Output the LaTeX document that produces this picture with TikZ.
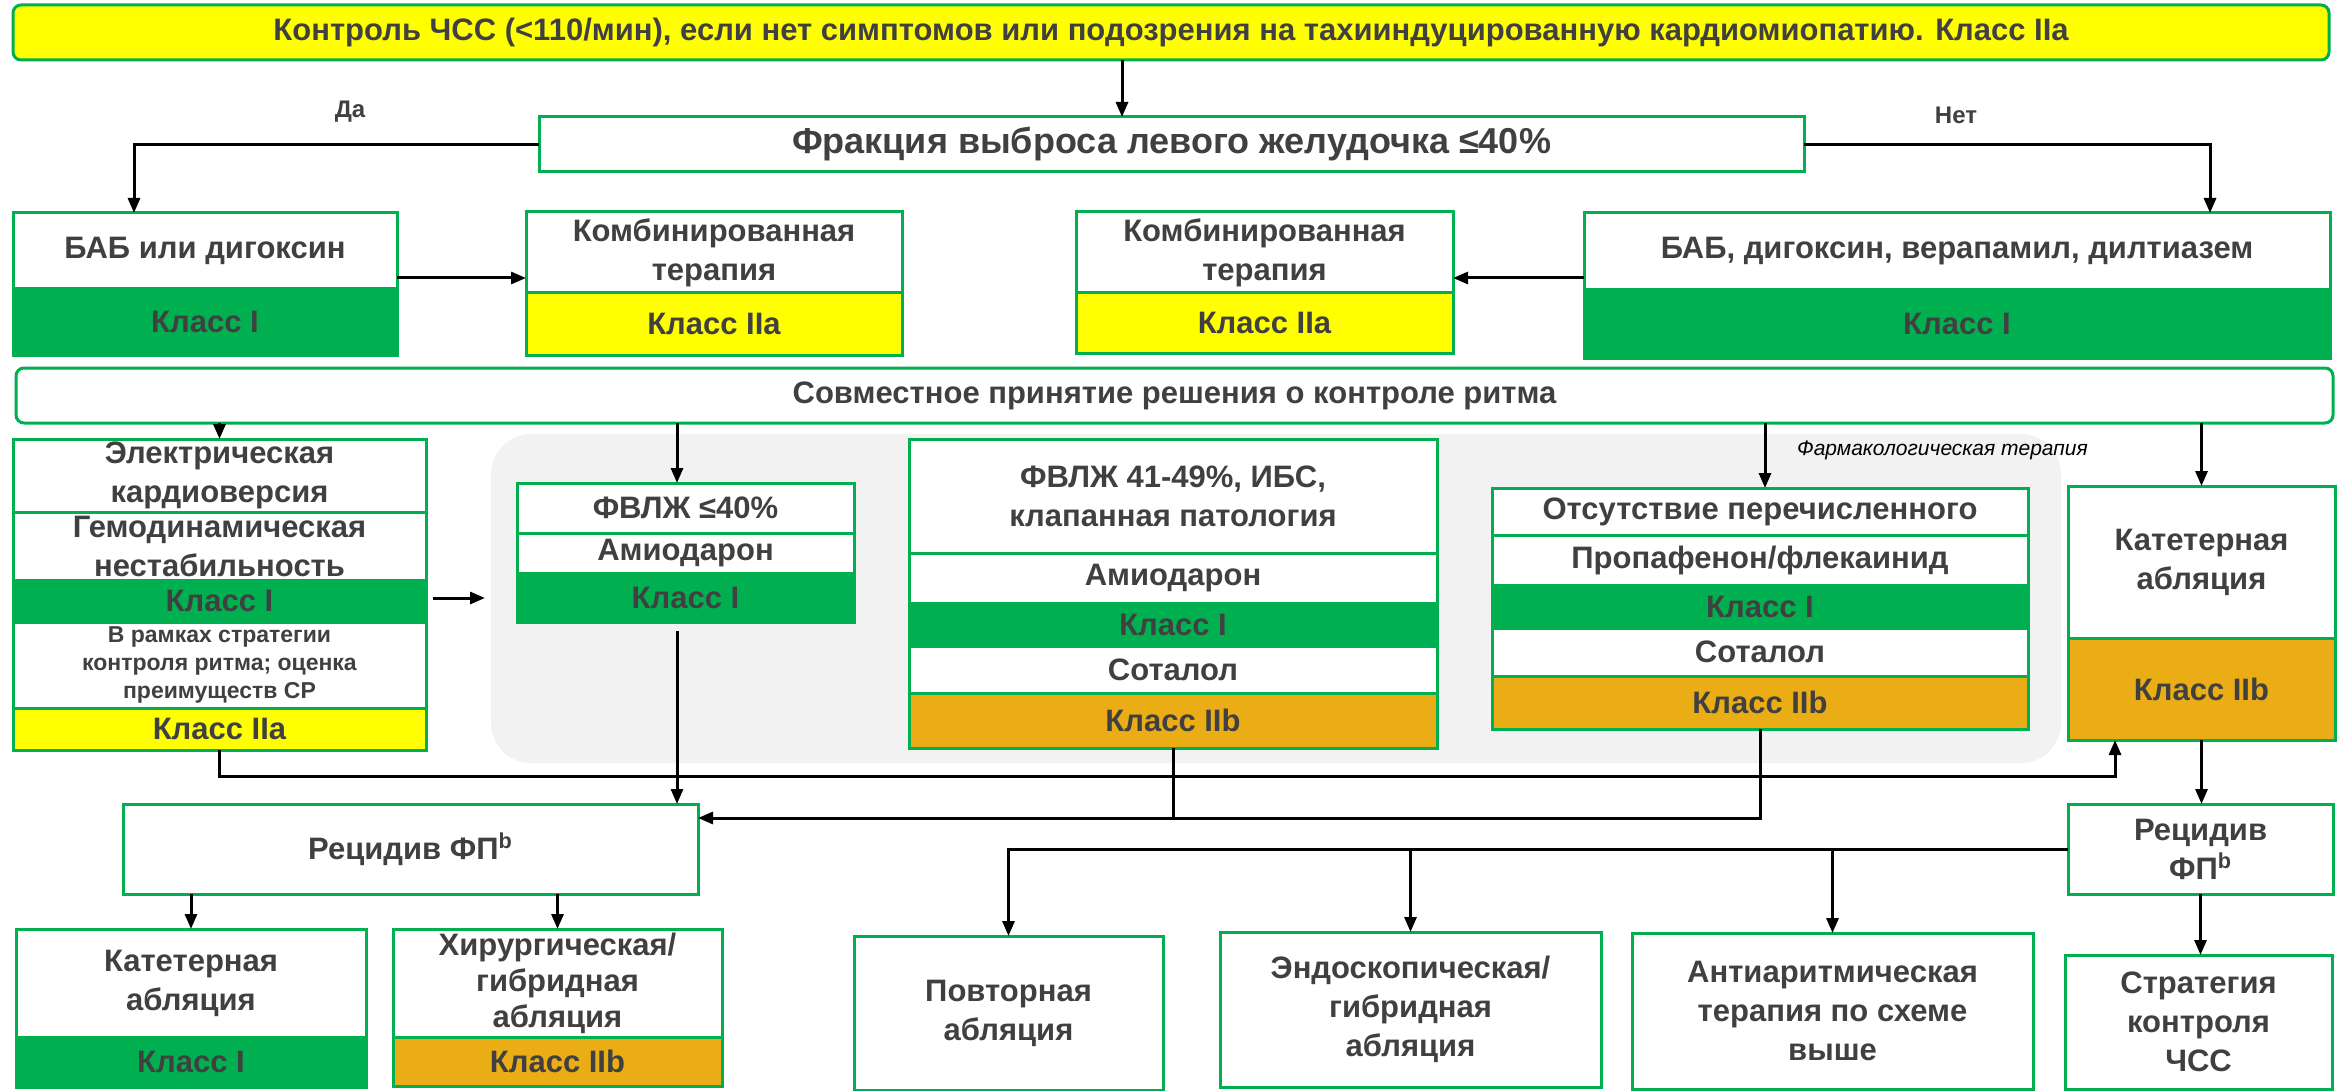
\documentclass[tikz,border=0pt]{standalone}
\usepackage{fontspec}
\setmainfont{Liberation Sans}
\usetikzlibrary{arrows.meta}

\definecolor{lgreen}{HTML}{00B050}
\definecolor{yel}{HTML}{FFFF00}
\definecolor{amber}{HTML}{EAAD16}
\definecolor{dgray}{HTML}{404040}
\definecolor{bggray}{HTML}{F2F2F2}

\tikzset{
    sz/.style 2 args={minimum width=#1*0.5pt, minimum height=#2*0.5pt},
    cell/.style={draw=lgreen, line width=1.5pt, fill=white, anchor=north west,
        inner sep=0pt, outer sep=0pt, align=center, text=dgray,
        font=\fontsize{15.5}{19.5}\selectfont\bfseries},
    small/.style={font=\fontsize{11.5}{13.8}\selectfont\bfseries},
    clsI/.style={cell, fill=lgreen},
    clsIIa/.style={cell, fill=yel},
    clsIIb/.style={cell, fill=amber},
    lbl/.style={text=dgray, font=\fontsize{12}{14}\selectfont\bfseries},
    conn/.style={draw=black, line width=1.5pt},
    arr/.style={conn, -{Triangle[length=7.5pt,width=6pt]}},
}

\begin{document}
\begin{tikzpicture}[x=0.5pt, y=-0.5pt]
    \useasboundingbox (0,0) rectangle (2339,1091);

    % background of the drug block
    \node[fill=bggray, rounded corners=20pt, anchor=north west, inner sep=0pt,
        outer sep=0pt, sz={1570}{329}] (pharm) at (491,434) {};

    % rate control
    \node[clsIIa, rounded corners=4pt, sz={2316}{55}] (ratectl) at (13,5)
        {Контроль ЧСС (<110/мин), если нет симптомов или подозрения на тахииндуцированную кардиомиопатию. Класс IIa};
    \node[cell, sz={1265}{55}, font=\fontsize{18}{20}\selectfont\bfseries] (lvef) at (539,117)
        {Фракция выброса левого желудочка ≤40\%};
    \node[lbl] (yes) at (350,112) {Да};
    \node[lbl] (no) at (1956,115) {Нет};

    \node[cell, sz={384}{76}] (bab) at (13,213) {БАБ или дигоксин};
    \node[clsI, sz={384}{66}] (babC) at (13,289) {Класс I};
    \node[cell, sz={376}{81}] (combL) at (526,212) {Комбинированная\\терапия};
    \node[clsIIa, sz={376}{62}] (combLC) at (526,293) {Класс IIa};
    \node[cell, sz={377}{81}] (combR) at (1076,212) {Комбинированная\\терапия};
    \node[clsIIa, sz={377}{60}] (combRC) at (1076,293) {Класс IIa};
    \node[cell, sz={746}{77}] (babR) at (1584,213) {БАБ, дигоксин, верапамил, дилтиазем};
    \node[clsI, sz={746}{68}] (babRC) at (1584,290) {Класс I};

    % rhythm control
    \node[cell, rounded corners=4pt, sz={2317}{55}] (joint) at (16,368)
        {Совместное принятие решения о контроле ритма};

    \node[cell, sz={413}{73}] (ecv) at (13,439) {Электрическая\\кардиоверсия};
    \node[cell, sz={413}{68}] (hemo) at (13,512) {Гемодинамическая\\нестабильность};
    \node[clsI, sz={413}{42}] (hemoC) at (13,580) {Класс I};
    \node[cell, small, sz={413}{86}] (rhy) at (13,622) {В рамках стратегии\\контроля ритма; оценка\\преимуществ СР};
    \node[clsIIa, sz={413}{42}] (rhyC) at (13,708) {Класс IIa};

    \node[cell, sz={337}{50}] (lv40) at (517,483) {ФВЛЖ ≤40\%};
    \node[cell, sz={337}{40}] (amio1) at (517,533) {Амиодарон};
    \node[clsI, sz={337}{49}] (amio1C) at (517,573) {Класс I};

    \node[cell, sz={528}{114}] (lv41) at (909,439) {ФВЛЖ 41-49\%, ИБС,\\клапанная патология};
    \node[cell, sz={528}{50}] (amio2) at (909,553) {Амиодарон};
    \node[clsI, sz={528}{43}] (amio2C) at (909,603) {Класс I};
    \node[cell, sz={528}{47}] (sot1) at (909,646) {Соталол};
    \node[clsIIb, sz={528}{55}] (sot1C) at (909,693) {Класс IIb};

    \node[cell, sz={536}{47}] (none) at (1492,488) {Отсутствие перечисленного};
    \node[cell, sz={536}{50}] (prop) at (1492,535) {Пропафенон/флекаинид};
    \node[clsI, sz={536}{43}] (propC) at (1492,585) {Класс I};
    \node[cell, sz={536}{48}] (sot2) at (1492,628) {Соталол};
    \node[clsIIb, sz={536}{53}] (sot2C) at (1492,676) {Класс IIb};
    \node[anchor=west, font=\fontsize{10.5}{12}\selectfont\itshape] (pharmlbl) at (1790,450)
        {Фармакологическая терапия};

    \node[cell, sz={267}{152}] (cathR) at (2068,486) {Катетерная\\абляция};
    \node[clsIIb, sz={267}{102}] (cathRC) at (2068,638) {Класс IIb};

    % recurrence
    \node[cell, sz={575}{90}] (recL) at (123,804) {Рецидив ФП\textsuperscript{b}};
    \node[cell, sz={265}{90}] (recR) at (2068,804) {Рецидив\\ФП\textsuperscript{b}};

    \node[cell, sz={350}{108}] (cathL) at (16,929) {Катетерная\\абляция};
    \node[clsI, sz={350}{50}] (cathLC) at (16,1037) {Класс I};
    \node[cell, sz={329}{108}, font=\fontsize{15.5}{18}\selectfont\bfseries] (surg) at (393,929)
        {Хирургическая/\\гибридная\\абляция};
    \node[clsIIb, sz={329}{49}] (surgC) at (393,1037) {Класс IIb};
    \node[cell, sz={309}{154}] (redo) at (854,936) {Повторная\\абляция};
    \node[cell, sz={381}{155}] (endo) at (1220,932) {Эндоскопическая/\\гибридная\\абляция};
    \node[cell, sz={401}{156}] (aad) at (1632,933) {Антиаритмическая\\терапия по схеме\\выше};
    \node[cell, sz={267}{134}] (rate) at (2065,955) {Стратегия\\контроля\\ЧСС};

    % connectors
    \draw[arr] (ratectl.south -| 1122,0) -- (lvef.north -| 1122,0);
    \draw[arr] (lvef.west) -| (bab.north -| 134,0);
    \draw[arr] (lvef.east) -| (babR.north -| 2210,0);
    \draw[arr] (bab.east |- 0,278) -- (combL.west |- 0,278);
    \draw[arr] (babR.west |- 0,278) -- (combR.east |- 0,278);

    \draw[arr] (joint.south -| ecv.north) -- (ecv.north);
    \draw[arr] (joint.south -| 677,0) -- (lv40.north -| 677,0);
    \draw[arr] (joint.south -| 1765,0) -- (none.north -| 1765,0);
    \draw[arr] (joint.south -| cathR.north) -- (cathR.north);
    \draw[arr] ([xshift=3.5pt]hemoC.east |- 0,598) -- ([xshift=-3pt]pharm.west |- 0,598);

    \draw[arr] (677,631) -- (recL.north -| 677,0);
    \draw[conn] (sot1C.south) -- (sot1C.south |- 0,818);
    \draw[arr] (sot2C.south) -- (sot2C.south |- 0,818) -- (recL.east |- 0,818);
    \draw[arr] (rhyC.south) |- (2115,776) -- (cathRC.south -| 2115,0);

    \draw[arr] (cathRC.south) -- (cathRC.south |- recR.north);
    \draw[arr] (recR.south) -- (recR.south |- rate.north);
    \draw[arr] (recR.west) -| (redo.north);
    \draw[arr] (endo.north |- recR.west) -- (endo.north);
    \draw[arr] (aad.north |- recR.west) -- (aad.north);

    \draw[arr] (recL.south -| cathL.north) -- (cathL.north);
    \draw[arr] (recL.south -| surg.north) -- (surg.north);
\end{tikzpicture}
\end{document}
